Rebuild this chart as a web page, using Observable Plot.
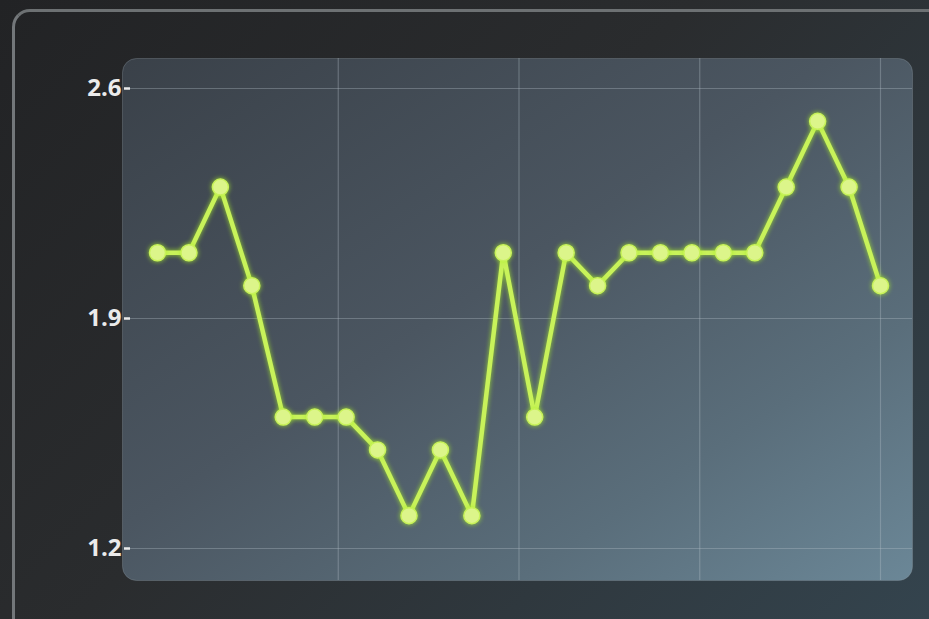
<!DOCTYPE html>
<html>
<head>
<meta charset="utf-8">
<script src="https://cdn.jsdelivr.net/npm/d3@7"></script>
<script src="https://cdn.jsdelivr.net/npm/@observablehq/plot@0.6"></script>
<style>
  html, body { margin: 0; padding: 0; width: 929px; height: 619px; overflow: hidden; }
  body { background: linear-gradient(135deg, #222325 0%, #2a2c2e 45%, #34444e 100%); font-family: "Open Sans", sans-serif; position: relative; }
  #bezel { position: absolute; left: 12px; top: 9px; width: 1000px; height: 700px; border-left: 3px solid #73777a; border-top: 3px solid #6d7173; border-top-left-radius: 18px; }
  #chart { position: absolute; left: 0; top: 0; }
</style>
</head>
<body>
<div id="bezel"></div>
<div id="chart"></div>
<script>
// Data
const steps  = [0, 1, 2, 3, 4, 5, 6, 7, 8, 9, 10, 11, 12, 13, 14, 15, 16, 17, 18, 19, 20, 21, 22, 23];
const values = [2.1, 2.1, 2.3, 2.0, 1.6, 1.6, 1.6, 1.5, 1.3, 1.5, 1.3, 2.1, 1.6, 2.1, 2.0, 2.1, 2.1, 2.1, 2.1, 2.1, 2.3, 2.5, 2.3, 2.0];
const yTicks = [1.2, 1.9, 2.6];
const xGridTicks = [5.75, 11.5, 17.25, 23];

const data = steps.map((s, i) => ({step: s, value: values[i]}));

const chart = Plot.plot({
  width: 929,
  height: 619,
  marginLeft: 130,
  marginRight: 17,
  marginTop: 58,
  marginBottom: 39,
  style: { background: "transparent", fontFamily: "Open Sans, sans-serif", overflow: "visible" },
  x: { domain: [0, 23], insetLeft: 27, insetRight: 32, axis: null },
  y: { domain: [1.2, 2.6], insetTop: 30, insetBottom: 32, axis: null },
  marks: [
    Plot.frame({ fill: "url(#panelGrad)", stroke: "#8a959e", strokeOpacity: 0.35, rx: 14, ry: 14, insetLeft: -8 }),
    Plot.gridX(xGridTicks, { stroke: "#b4c0c8", strokeOpacity: 0.35, strokeWidth: 1.2 }),
    Plot.gridY(yTicks, { stroke: "#b4c0c8", strokeOpacity: 0.35, strokeWidth: 1.2 }),
    Plot.axisY(yTicks, { anchor: "left", tickSize: 6, tickPadding: 3, fontSize: 24, fontWeight: 700, color: "#ebebeb", strokeWidth: 2.5, label: null, tickFormat: d => d.toFixed(1) }),
    Plot.line(data, { x: "step", y: "value", stroke: "#c8f25a", strokeWidth: 4.5 }),
    Plot.dot(data, { x: "step", y: "value", r: 8, fill: "#dcf58a", stroke: "#c8f25a", strokeWidth: 1.5 })
  ]
});

// Panel gradient and glow filter
const ns = "http://www.w3.org/2000/svg";
const defs = document.createElementNS(ns, "defs");
defs.innerHTML = `
  <linearGradient id="panelGrad" x1="0" y1="0" x2="1" y2="1">
    <stop offset="0" stop-color="#3a4149"/>
    <stop offset="0.45" stop-color="#4b5661"/>
    <stop offset="0.75" stop-color="#5a6e7b"/>
    <stop offset="1" stop-color="#6b8797"/>
  </linearGradient>`;
chart.insertBefore(defs, chart.firstChild);
chart.querySelectorAll('g[aria-label="line"], g[aria-label="dot"]').forEach(g => {
  g.style.filter = "drop-shadow(0 0 2.5px rgba(170,240,40,0.85))";
});

document.getElementById("chart").appendChild(chart);
</script>
</body>
</html>
